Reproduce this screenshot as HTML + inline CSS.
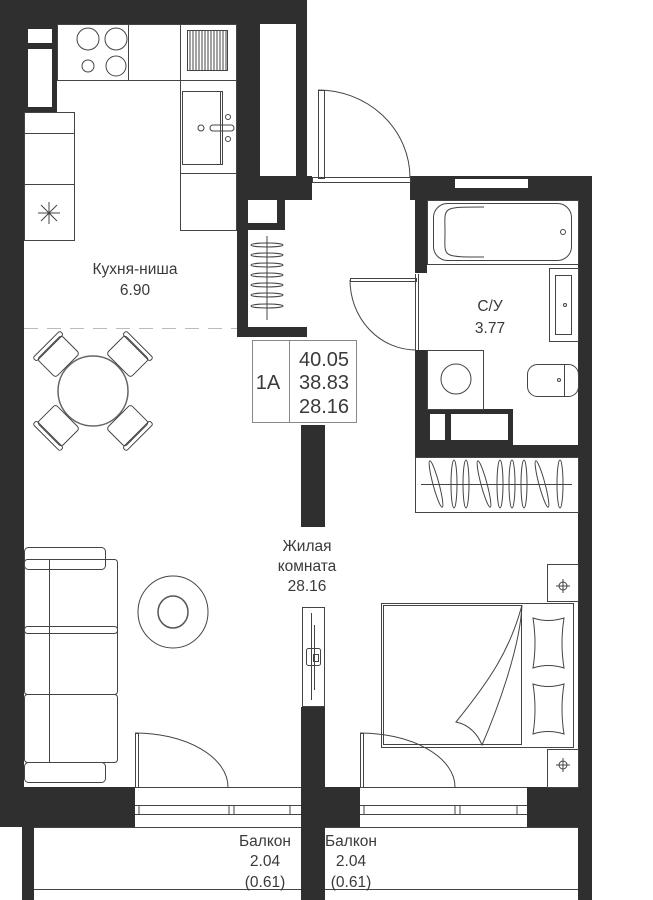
<!DOCTYPE html>
<html><head><meta charset="utf-8"><style>
html,body{margin:0;padding:0;background:#fff}
svg{display:block}
text{font-family:"Liberation Sans",sans-serif;fill:#3a3a3a}
</style></head><body>
<svg width="653" height="900" viewBox="0 0 653 900" xmlns="http://www.w3.org/2000/svg">
<g fill="#2f2f2f">
<rect x="0" y="0" width="307" height="24"/>
<rect x="0" y="0" width="24" height="827"/>
<rect x="0" y="24" width="57" height="88"/>
<rect x="237" y="0" width="70" height="200"/>
<rect x="237" y="176" width="75" height="24"/>
<rect x="237" y="176" width="48" height="161"/>
<rect x="237" y="327" width="70" height="10"/>
<rect x="410" y="176" width="182" height="24"/>
<rect x="415" y="176" width="12" height="97"/>
<rect x="578" y="176" width="14" height="611"/>
<rect x="415" y="350" width="12" height="107"/>
<rect x="415" y="409" width="98" height="36"/>
<rect x="415" y="445" width="177" height="12"/>
<rect x="301" y="425" width="24" height="102"/>
<rect x="301" y="707" width="24" height="193"/>
<rect x="0" y="787" width="135" height="40"/>
<rect x="325" y="787" width="35" height="40"/>
<rect x="527" y="787" width="65" height="40"/>
<rect x="22" y="827" width="12" height="73"/>
<rect x="578" y="827" width="14" height="73"/>
</g>
<g fill="#fff">
<rect x="28" y="29" width="24" height="14"/>
<rect x="28" y="49" width="24" height="58"/>
<rect x="260" y="24" width="36" height="152"/>
<rect x="248" y="200" width="29" height="23"/>
<rect x="248" y="230" width="38" height="97"/>
<rect x="455" y="179" width="73" height="9"/>
<rect x="430" y="414" width="15" height="26"/>
<rect x="451" y="414" width="57" height="26"/>
</g>
<g fill="none" stroke="#444" stroke-width="1">
<rect x="57.5" y="24.5" width="179" height="56"/>
<line x1="128.5" y1="24" x2="128.5" y2="80"/><line x1="180.5" y1="24" x2="180.5" y2="80"/>
<circle cx="88" cy="39" r="11"/><circle cx="116" cy="39" r="11"/><circle cx="88" cy="66" r="6"/><circle cx="116" cy="66" r="10"/>
<rect x="187.5" y="30.5" width="40" height="40"/>
<path d="M190 31v40M193 31v40M196 31v40M199 31v40M202 31v40M205 31v40M208 31v40M211 31v40M214 31v40M217 31v40M220 31v40M223 31v40M226 31v40"/>
<rect x="180.5" y="80.5" width="56" height="93"/>
<rect x="182.5" y="91.5" width="40" height="73"/>
<line x1="220.5" y1="91" x2="220.5" y2="165"/>
<circle cx="201" cy="128" r="3"/><circle cx="228" cy="117" r="2.5"/><circle cx="228" cy="139" r="2.5"/>
<rect x="210" y="125" width="24" height="6" rx="3"/>
<rect x="180.5" y="173.5" width="56" height="57"/>
<rect x="24.5" y="112.5" width="50" height="128"/>
<line x1="24" y1="133.5" x2="75" y2="133.5"/><line x1="24" y1="184.5" x2="75" y2="184.5"/>
<path d="M49 202v22M38 213h22M41 205l16 16M57 205l-16 16"/>
<line x1="24" y1="328.5" x2="237" y2="328.5" stroke="#bbb" stroke-dasharray="14,9"/>
<line x1="267" y1="236" x2="267" y2="320"/>
<g><ellipse cx="267" cy="245" rx="16" ry="2"/><ellipse cx="267" cy="255" rx="16" ry="2"/><ellipse cx="267" cy="265" rx="16" ry="2"/><ellipse cx="267" cy="275" rx="16" ry="2"/><ellipse cx="267" cy="285" rx="16" ry="2"/><ellipse cx="267" cy="295" rx="16" ry="2"/><ellipse cx="267" cy="306" rx="16" ry="2"/></g>
<circle cx="93" cy="391" r="35" stroke="#666" stroke-width="1.5"/>
<g transform="translate(93 391)">
<g transform="rotate(-45)"><rect x="-17" y="-62" width="34" height="26" rx="3"/><rect x="-19" y="-66" width="38" height="5" rx="2"/></g>
<g transform="rotate(45)"><rect x="-17" y="-62" width="34" height="26" rx="3"/><rect x="-19" y="-66" width="38" height="5" rx="2"/></g>
<g transform="rotate(135)"><rect x="-17" y="-62" width="34" height="26" rx="3"/><rect x="-19" y="-66" width="38" height="5" rx="2"/></g>
<g transform="rotate(-135)"><rect x="-17" y="-62" width="34" height="26" rx="3"/><rect x="-19" y="-66" width="38" height="5" rx="2"/></g>
</g>
<rect x="252.5" y="340.5" width="104" height="82" stroke="#888"/>
<line x1="289.5" y1="340" x2="289.5" y2="423" stroke="#888"/>
<rect x="318.5" y="90.5" width="6" height="88"/>
<path d="M318 90 A92 88 0 0 1 410 178"/>
<rect x="312.5" y="177.5" width="98" height="5"/>
<rect x="427.5" y="200.5" width="151" height="64"/>
<rect x="433.5" y="203.5" width="138" height="57" rx="14"/>
<path d="M484 207 C440 207 445 207 445 232 C445 257 440 257 484 257"/>
<circle cx="563" cy="232" r="2.5"/>
<line x1="415.5" y1="274" x2="415.5" y2="350"/><line x1="418.5" y1="274" x2="418.5" y2="350"/>
<rect x="350.5" y="278.5" width="66" height="3"/>
<path d="M350 280 A66 70 0 0 0 416 350"/>
<rect x="549.5" y="268.5" width="29" height="73"/>
<rect x="555.5" y="275.5" width="16" height="59"/>
<circle cx="565" cy="305" r="1.5"/>
<rect x="527.5" y="364.5" width="51" height="32" rx="10"/>
<line x1="564.5" y1="364" x2="564.5" y2="397"/>
<circle cx="559" cy="380" r="1.5"/>
<rect x="427.5" y="350.5" width="56" height="59"/>
<circle cx="456" cy="379" r="15"/>
<rect x="415.5" y="457.5" width="163" height="55"/>
<line x1="421" y1="484.5" x2="572" y2="484.5"/>
<g transform="translate(0 484)">
<ellipse cx="436" cy="0" rx="3" ry="24" transform="rotate(-15 436 0)"/>
<ellipse cx="454" cy="0" rx="3" ry="24"/><ellipse cx="466" cy="0" rx="3" ry="24"/>
<ellipse cx="484" cy="0" rx="3" ry="24" transform="rotate(-15 484 0)"/>
<ellipse cx="500" cy="0" rx="3" ry="24"/><ellipse cx="512" cy="0" rx="3" ry="24"/><ellipse cx="524" cy="0" rx="3" ry="24"/>
<ellipse cx="542" cy="0" rx="3" ry="24" transform="rotate(-15 542 0)"/>
<ellipse cx="560" cy="0" rx="3" ry="24"/>
</g>
<rect x="24.5" y="547.5" width="81" height="22" rx="4"/>
<rect x="24.5" y="559.5" width="93" height="74" rx="3"/>
<rect x="24.5" y="626.5" width="93" height="68" rx="3"/>
<rect x="24.5" y="694.5" width="93" height="68" rx="3"/>
<line x1="49.5" y1="559" x2="49.5" y2="762"/>
<rect x="24.5" y="762.5" width="81" height="20" rx="4"/>
<ellipse cx="173" cy="612" rx="35" ry="36"/>
<ellipse cx="173" cy="612" rx="15" ry="16" stroke="#555" stroke-width="1.5"/>
<rect x="302.5" y="607.5" width="22" height="99"/>
<line x1="311.5" y1="613" x2="311.5" y2="700"/>
<line x1="314.5" y1="625" x2="314.5" y2="690"/>
<rect x="306.5" y="648.5" width="14" height="17" rx="2"/>
<rect x="313.5" y="654.5" width="5" height="7"/>
<rect x="381.5" y="603.5" width="192" height="144"/>
<rect x="383.5" y="605.5" width="138" height="139"/>
<path d="M522 605 C510 650 490 680 456 722 C470 725 478 735 482 745 C495 715 520 650 522 605"/>
<path d="M533 618 Q548 623 564 618 Q560 643 564 668 Q548 663 533 668 Q537 643 533 618Z"/>
<path d="M533 684 Q548 689 564 684 Q560 709 564 734 Q548 729 533 734 Q537 709 533 684Z"/>
<rect x="547.5" y="564.5" width="31" height="37"/>
<rect x="547.5" y="749.5" width="31" height="38"/>
<circle cx="563" cy="586" r="4"/><path d="M563 579v14M556 586h14"/>
<circle cx="563" cy="765" r="4"/><path d="M563 758v14M556 765h14"/>
<rect x="135.5" y="733.5" width="3" height="54"/>
<path d="M135 733 A93 54 0 0 1 228 787"/>
<rect x="360.5" y="733.5" width="3" height="54"/>
<path d="M360 733 A95 54 0 0 1 455 787"/>
<line x1="135" y1="787.5" x2="301" y2="787.5"/><line x1="360" y1="787.5" x2="527" y2="787.5"/>
<line x1="135" y1="805.5" x2="301" y2="805.5"/><line x1="360" y1="805.5" x2="527" y2="805.5"/>
<line x1="135" y1="814.5" x2="301" y2="814.5"/><line x1="360" y1="814.5" x2="527" y2="814.5"/>
<path d="M139 805v9M229 805v9M234 805v9M290 805v9M364 805v9M455 805v9M460 805v9M517 805v9"/>
<line x1="34" y1="827.5" x2="301" y2="827.5"/><line x1="325" y1="827.5" x2="578" y2="827.5"/>
<line x1="34" y1="889.5" x2="301" y2="889.5"/><line x1="325" y1="889.5" x2="578" y2="889.5"/>
</g>
<g font-size="15.5" text-anchor="middle">
<text x="135" y="274">Кухня-ниша</text>
<text x="135" y="295">6.90</text>
<text x="490" y="311">С/У</text>
<text x="490" y="333">3.77</text>
<text x="307" y="551">Жилая</text>
<text x="307" y="571">комната</text>
<text x="307" y="591">28.16</text>
<text x="265" y="846">Балкон</text>
<text x="265" y="866">2.04</text>
<text x="265" y="887">(0.61)</text>
<text x="351" y="846">Балкон</text>
<text x="351" y="866">2.04</text>
<text x="351" y="887">(0.61)</text>
</g>
<g font-size="20" text-anchor="middle">
<text x="268" y="389">1A</text>
<text x="324" y="366">40.05</text>
<text x="324" y="389">38.83</text>
<text x="324" y="413">28.16</text>
</g>
</svg>
</body></html>
